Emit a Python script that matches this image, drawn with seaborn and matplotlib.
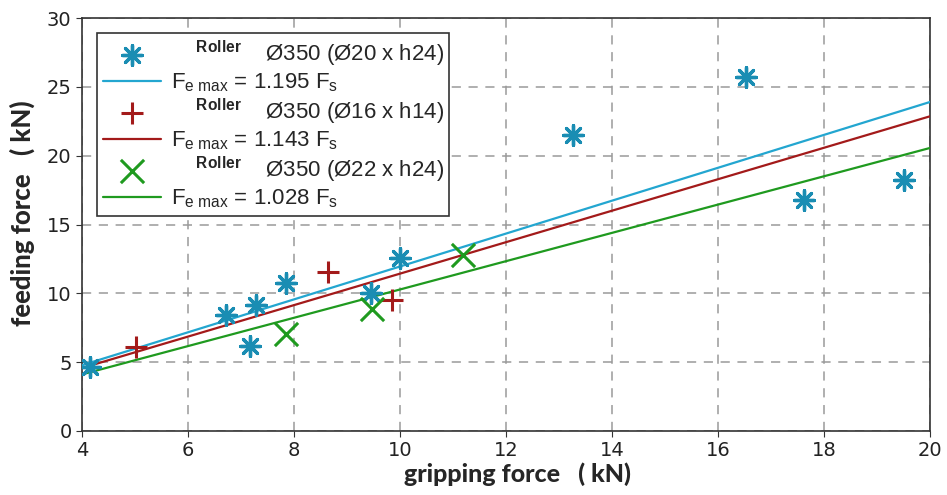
import numpy as np
import pandas as pd
import matplotlib
matplotlib.use("Agg")
import matplotlib.pyplot as plt
import seaborn as sns

# measured points (gripping force kN, feeding force kN)
x_20 = [4.15, 6.72, 7.17, 7.28, 7.85, 9.45, 10.0, 13.26, 16.53, 17.62, 19.5]
y_20 = [4.65, 8.4, 6.2, 9.15, 10.75, 10.0, 12.6, 21.5, 25.7, 16.8, 18.2]
x_16 = [5.02, 8.64, 9.85]
y_16 = [6.1, 11.55, 9.5]
x_22 = [7.85, 9.47, 11.19]
y_22 = [7.05, 8.85, 12.8]

# fitted slopes F_e max = k * F_s
slopes = [1.195, 1.143, 1.028]
fit_x = [4, 20]

roller_labels = ["Ø350 (Ø20 x h24)", "Ø350 (Ø16 x h14)", "Ø350 (Ø22 x h24)"]
c_blue, c_blue_line = "#1a8db3", "#23a6d0"
c_red = "#a31a1a"
c_green = "#1f9a1f"

sns.set_style("ticks")
plt.rcParams["font.family"] = ["DejaVu Sans"]
plt.rcParams["mathtext.fontset"] = "custom"
plt.rcParams["mathtext.rm"] = "Liberation Sans"
plt.rcParams["mathtext.it"] = "Liberation Sans"
plt.rcParams["mathtext.bf"] = "Liberation Sans:bold"

fig = plt.figure(figsize=(9.47, 4.95), dpi=100)
ax = fig.add_axes([82 / 947, 1 - 431 / 495, 848 / 947, 413 / 495])


def roller(txt):
    return r"    $^{\mathbf{Roller}}$    " + txt


sns.scatterplot(x=x_20, y=y_20, ax=ax, marker=(8, 2, 0), s=200, color=c_blue,
                linewidth=2.4, edgecolor=c_blue, label=roller(roller_labels[0]), zorder=5)
sns.scatterplot(x=x_16, y=y_16, ax=ax, marker="+", s=260, color=c_red,
                linewidth=2.2, label=roller(roller_labels[1]), zorder=5)
sns.scatterplot(x=x_22, y=y_22, ax=ax, marker="x", s=280, color=c_green,
                linewidth=2.2, label=roller(roller_labels[2]), zorder=5)

line_cols = [c_blue_line, c_red, c_green]
for k, c in zip(slopes, line_cols):
    d = pd.DataFrame({"x": fit_x, "y": [k * v for v in fit_x]})
    sns.lineplot(data=d, x="x", y="y", ax=ax, color=c, linewidth=1.6,
                 label=r"F$_{\mathrm{e\ max}}$ = %.3f F$_{\mathrm{s}}$" % k, zorder=4)

ax.set_xlim(4, 20)
ax.set_ylim(0, 30)
ax.set_xticks(np.arange(4, 21, 2))
ax.set_yticks(np.arange(0, 31, 5))
ax.grid(True, linestyle=(0, (6, 5)), color="#9a9a9a", linewidth=1.1)
for sp in ax.spines.values():
    sp.set_color("#333333")
    sp.set_linewidth(1.2)
ax.tick_params(direction="out", length=4, labelsize=14, colors="#333333", labelcolor="#222222")

ax.set_xlabel("gripping force   ( kN)", fontsize=18, fontweight=900,
              family=["Lato", "Liberation Sans"])
ax.set_ylabel("feeding force   ( kN)", fontsize=18.5, fontweight=900,
              family=["Lato", "Liberation Sans"])
ax.xaxis.set_label_coords(0.513, -0.075)
ax.yaxis.set_label_coords(-0.056, 0.528)

handles, labels = ax.get_legend_handles_labels()
order = [0, 3, 1, 4, 2, 5]
leg = ax.legend([handles[i] for i in order], [labels[i] for i in order],
                loc="upper left", bbox_to_anchor=(0.018, 0.964), borderaxespad=0,
                prop={"family": "Liberation Sans", "size": 16},
                frameon=True, fancybox=False, edgecolor="#333333", framealpha=1,
                handlelength=2.6, labelspacing=0.12, borderpad=0.25, handletextpad=0.45)
leg.get_frame().set_linewidth(1.2)

fig.savefig("out.png", dpi=100)
